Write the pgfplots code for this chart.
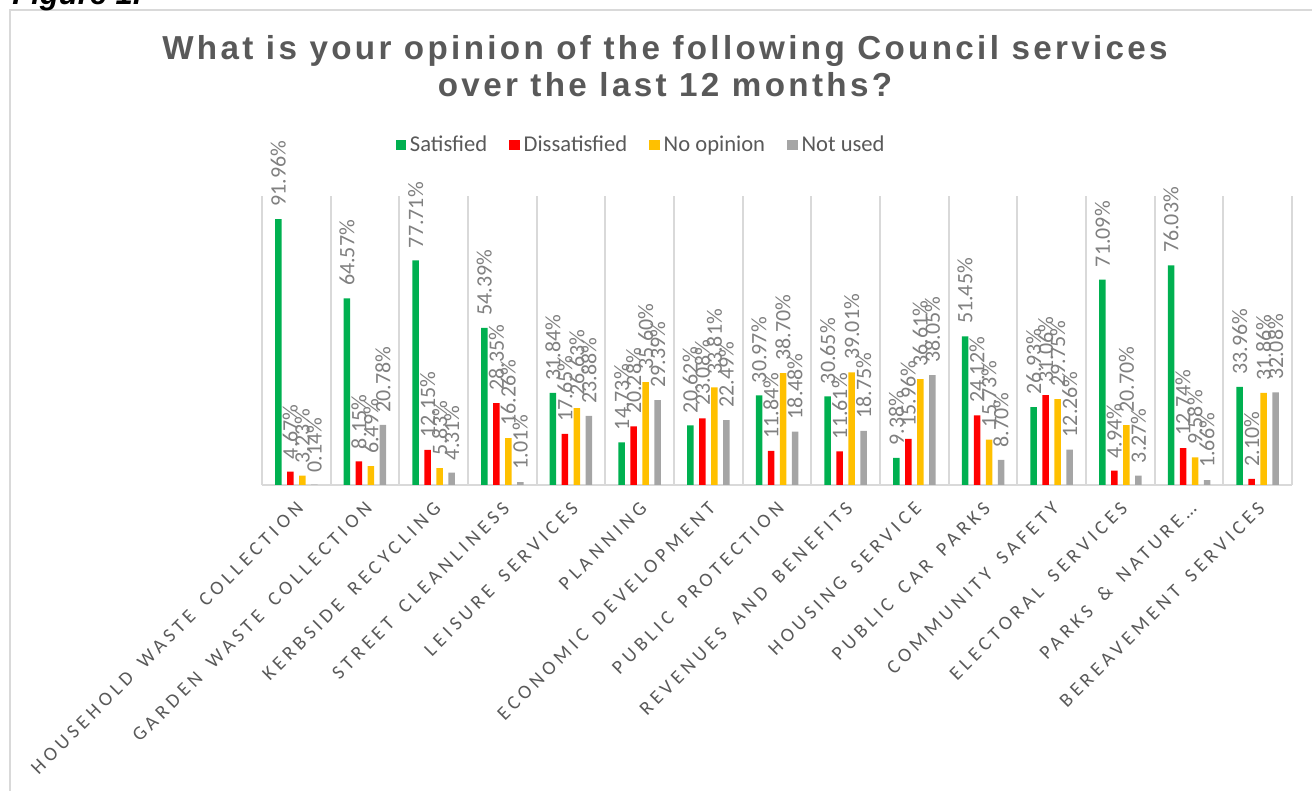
\documentclass[border=0pt]{standalone}
\usepackage{fontspec}
\setmainfont{Carlito}
\newfontfamily\titlefont[LetterSpace=10]{Liberation Sans}
\newfontfamily\figfont{Liberation Sans}
\newfontfamily\tickfont[LetterSpace=22, WordSpace=1.6]{Carlito}
\usepackage{pgfplots}
\usepackage{pgfplotstable}
\pgfplotsset{compat=1.18}

\definecolor{satc}{HTML}{00B050}
\definecolor{disc}{HTML}{FF0000}
\definecolor{noopc}{HTML}{FFC000}
\definecolor{nusedc}{HTML}{A5A5A5}
\definecolor{textgray}{HTML}{595959}
\definecolor{labelgray}{HTML}{808080}
\definecolor{gridgray}{HTML}{D9D9D9}

% share of respondents per service
\pgfplotstableread{
idx sat   dis   noop  notused
0   91.96 4.67  3.23  0.14
1   64.57 8.15  6.49  20.78
2   77.71 12.15 5.83  4.31
3   54.39 28.35 16.26 1.01
4   31.84 17.65 26.63 23.88
5   14.73 20.28 35.60 29.39
6   20.62 23.08 33.81 22.49
7   30.97 11.84 38.70 18.48
8   30.65 11.61 39.01 18.75
9   9.38  15.96 36.61 38.05
10  51.45 24.12 15.73 8.70
11  26.93 31.06 29.75 12.26
12  71.09 4.94  20.70 3.27
13  76.03 12.74 9.58  1.66
14  33.96 2.10  31.86 32.08
}\servicedata

\begin{document}
\begin{tikzpicture}
% page: 1312x791 px at 0.5pt per px, origin at the plot's lower left corner
\useasboundingbox (-131pt,-153pt) rectangle (525pt,242.5pt);
\clip (-131pt,-153pt) rectangle (525pt,242.5pt);

\draw[gridgray, line width=1pt] (-126pt,-160pt) -- (-126pt,237.5pt) -- (530pt,237.5pt);
\node[anchor=base west, inner sep=0pt, font=\figfont\bfseries\itshape\fontsize{15.5}{18}\selectfont]
  at (-125pt,240pt) {Figure 1.};

\node[anchor=base, inner sep=0pt, text=textgray, font=\titlefont\bfseries\fontsize{16.6}{19}\selectfont]
  at (201.5pt,212.5pt) {What is your opinion of the following Council services};
\node[anchor=base, inner sep=0pt, text=textgray, font=\titlefont\bfseries\fontsize{16.6}{19}\selectfont]
  at (201.5pt,194pt) {over the last 12 months?};

\begin{axis}[
  at={(0pt,0pt)}, anchor=south west,
  scale only axis,
  width=515pt, height=144.5pt,
  ybar=2.75pt, bar width=3.25pt,
  xmin=-0.5, xmax=14.5,
  ymin=0, ymax=100,
  enlargelimits=false,
  clip=false,
  axis x line*=bottom,
  axis y line=none,
  x axis line style={-, draw=gridgray, line width=1pt},
  ytick=\empty,
  xtick={0,...,14},
  minor xtick={-0.5,0.5,...,14.5},
  xminorgrids=true,
  minor grid style={draw=gridgray, line width=1pt},
  major tick length=0pt, minor tick length=0pt,
  xticklabels={HOUSEHOLD WASTE COLLECTION, GARDEN WASTE COLLECTION, KERBSIDE RECYCLING,
    STREET CLEANLINESS, LEISURE SERVICES, PLANNING, ECONOMIC DEVELOPMENT,
    PUBLIC PROTECTION, REVENUES AND BENEFITS, HOUSING SERVICE, PUBLIC CAR PARKS,
    COMMUNITY SAFETY, ELECTORAL SERVICES, PARKS \& NATURE…, BEREAVEMENT SERVICES},
  xticklabel style={xshift=2pt, yshift=-10pt, rotate=45, anchor=east, inner sep=0pt,
    text=textgray, font=\tickfont\fontsize{9.8}{11}\selectfont},
  /pgf/number format/assume math mode=true,
  nodes near coords={\pgfmathprintnumber[fixed,fixed zerofill,precision=2]{\pgfplotspointmeta}\%},
  every node near coord/.append style={rotate=90, anchor=west, inner xsep=6pt, inner ysep=0pt,
    text=labelgray, font=\fontsize{11}{13}\selectfont},
  legend columns=4,
  legend style={at={(0.369,1.176)}, anchor=center, draw=none, fill=none,
    text=textgray, font=\fontsize{11.3}{13}\selectfont,
    /tikz/every even column/.append style={column sep=9pt}},
  legend image code/.code={\fill[#1] (0pt,-2.6pt) rectangle (5.2pt,2.6pt);},
]
\addplot[fill=satc, draw=none] table[x=idx, y=sat] {\servicedata};
\addlegendentry{Satisfied}
\addplot[fill=disc, draw=none] table[x=idx, y=dis] {\servicedata};
\addlegendentry{Dissatisfied}
\addplot[fill=noopc, draw=none] table[x=idx, y=noop] {\servicedata};
\addlegendentry{No opinion}
\addplot[fill=nusedc, draw=none] table[x=idx, y=notused] {\servicedata};
\addlegendentry{Not used}
\end{axis}
\end{tikzpicture}
\end{document}
